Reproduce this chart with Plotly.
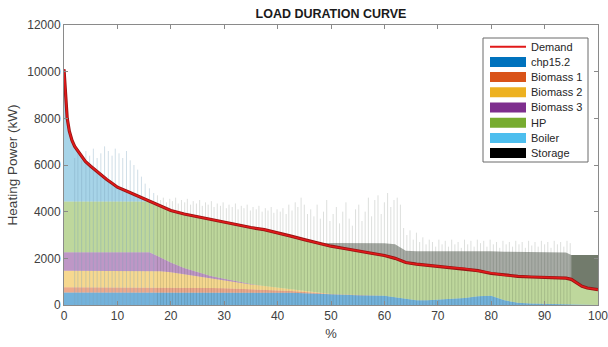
import plotly.graph_objects as go

# ---------------- data ----------------
X = [0, 0.3, 0.6, 1, 1.5, 2, 3, 4, 5, 6, 7, 8, 9, 10, 12, 14, 16, 18, 20,
     22.5, 25, 27.5, 30, 32.5, 35, 37.5, 40, 42.5, 45, 47.5, 50, 52.5, 55, 57.5, 60,
     62, 64, 66, 68, 70, 72.5, 75, 77.5, 80, 82.5, 85, 87.5, 90, 92.5,
     94, 95, 96, 97, 98, 99, 100]

DEMAND = [10100, 9200, 8000, 7450, 7050, 6800, 6450, 6150, 5950, 5750, 5550, 5380, 5220, 5050,
          4850, 4650, 4470, 4270, 4050,
          3900, 3780, 3650, 3530, 3420, 3320, 3230, 3100, 2950, 2800, 2650, 2520, 2420, 2320, 2220, 2120,
          2000, 1820, 1750, 1700, 1650,
          1600, 1560, 1470, 1350, 1280, 1230, 1200, 1190, 1170,
          1150, 1100, 950, 800, 730, 690, 660]

CHP = [540] * 26 + [530, 520, 500, 470, 450, 440, 420, 420, 400,
                    330, 250, 200, 200, 220,
                    250, 300, 380, 400, 200, 100, 60, 50, 40,
                    30, 0, 0, 0, 0, 0, 0]

BIO1 = [220] * 19 + [210, 200, 190, 180, 160, 140, 120, 100, 80, 60, 40, 25, 15, 10, 0, 0] + [0] * 21

BIO2 = [710] * 17 + [690, 640] + [560, 480, 400, 330, 260, 200, 150, 110, 70, 40, 20] + [0] * 26

BIO3 = [790] * 17 + [600, 420] + [280, 180, 110, 70, 40, 20] + [0] * 31

HP = [2180] * 17 + [2220, 2230,
                    2310, 2380, 2410, 2410, 2420, 2420, 2420, 2360, 2280, 2200, 2120, 2045, 1965, 1890, 1800, 1720,
                    1670, 1570, 1550, 1500, 1430,
                    1350, 1260, 1090, 950, 1080, 1130, 1140, 1140, 1130,
                    1120, 1100, 950, 800, 730, 690, 660]

BOILER = [5660, 4760, 3560, 3010, 2610, 2360, 2010, 1710, 1510, 1310, 1110, 940, 780, 610,
          410, 210, 30] + [0] * 39

STORAGE = [0] * 30 + [140, 240, 330, 430, 530,
                      600, 500, 550, 600, 650,
                      700, 750, 850, 950, 1000, 1050, 1080, 1090, 1100,
                      1100, 1040, 1190, 1340, 1410, 1450, 1480]

BLOCK_TOP = 2140  # storage block at the end of the curve (95-100 %)

# storage / boiler spikes (position %, top kW)
SPIKE_BOILER_X = [2.0, 2.6, 3.3, 4.1, 4.8, 5.5, 6.2, 6.9, 7.6, 8.3, 9.0, 9.6, 10.3, 11.0,
                  11.7, 12.4, 13.1, 13.8, 14.5, 15.2, 16.0, 16.8]
SPIKE_BOILER_Y = [6300, 6500, 6200, 6600, 6400, 6700, 6300, 6500, 6800, 6600, 6400, 6700, 6500, 6300,
                  6600, 6200, 6000, 5800, 5500, 5200, 5000, 4800]

SPIKE_X = [17.5, 18.1, 18.6, 19.2, 19.8, 20.3, 20.9, 21.4, 22.0, 22.6, 23.1, 23.7, 24.2, 24.8,
           25.4, 25.9, 26.5, 27.0, 27.6, 28.1, 28.7, 29.3, 29.8, 30.4, 30.9, 31.5, 32.1, 32.6,
           33.2, 33.7, 34.3, 34.9, 35.4, 36.0, 36.5, 37.1, 37.7, 38.2, 38.8, 39.3, 39.9, 40.5,
           41.0, 41.6, 42.1, 42.7, 43.3, 43.8, 44.4, 45.0,
           45.6, 46.2, 46.8, 47.4, 48.0, 48.6, 49.2, 49.8, 50.4, 51.0, 51.6, 52.2, 52.8, 53.4,
           54.0, 54.6, 55.2, 55.8, 56.4, 57.0, 57.6, 58.2, 58.8, 59.4, 60.0, 60.6, 61.2, 61.8,
           62.4, 63.0,
           63.6, 64.2, 64.8, 65.4, 66.0, 66.6, 67.2, 67.8, 68.4, 69.0, 69.6, 70.2, 70.8, 71.4,
           72.0, 72.6, 73.2, 73.8, 74.4, 75.0, 75.6, 76.2, 76.8, 77.4, 78.0, 78.6, 79.2, 79.8,
           80.4, 81.0, 81.6, 82.2, 82.8, 83.4, 84.0, 84.6, 85.2, 85.8, 86.4, 87.0, 87.6, 88.2,
           88.8, 89.4, 90.0, 90.6, 91.2, 91.8, 92.4, 93.0, 93.6, 94.2, 94.8]
SPIKE_Y = [4700, 4500, 4600, 4400, 4550, 4450, 4600, 4350, 4500, 4400, 4550, 4300, 4450, 4350,
           4500, 4250, 4400, 4300, 4450, 4200, 4350, 4250, 4400, 4150, 4300, 4200, 4350, 4100,
           4250, 4150, 4300, 4050, 4200, 4100, 4250, 4000, 4150, 4050, 4200, 3950, 4100, 4000,
           4150, 3900, 4300, 4050, 4400, 4200, 4600, 4300,
           3900, 4100, 3800, 4300, 3700, 4000, 4500, 3600, 3900, 4200, 3500, 4000, 4400, 3700,
           3400, 4100, 4300, 3600, 4000, 4600, 3800, 4500, 4700, 3900, 4400, 4800, 4200, 4500,
           4600, 4300,
           3300, 3000, 3200, 2800, 3100, 2700, 2900, 2600, 2800, 2700, 2500, 2800, 2600, 2750,
           2500, 2800, 2600, 2700, 2450, 2800, 2600, 2750, 2500, 2800, 2650, 2750, 2500, 2800,
           2600, 2700, 2450, 2750, 2600, 2700, 2500, 2750, 2600, 2700, 2450, 2750, 2550, 2700,
           2500, 2750, 2600, 2700, 2450, 2750, 2600, 2700, 2500, 2750, 2650]

X_TICKS = [0, 10, 20, 30, 40, 50, 60, 70, 80, 90, 100]
Y_TICKS = [0, 2000, 4000, 6000, 8000, 10000, 12000]

LEGEND_NAMES = ["Demand", "chp15.2", "Biomass 1", "Biomass 2", "Biomass 3", "HP", "Boiler", "Storage"]

# ---------------- styling ----------------
W, H = 608, 347
ML, MR, MT, MB = 64, 10, 25, 42
FONT = "Liberation Sans, Arial, Helvetica, sans-serif"

C_CHP = "rgba(0,114,189,0.55)"
C_B1 = "rgba(217,83,25,0.5)"
C_B2 = "rgba(237,177,32,0.5)"
C_B3 = "rgba(126,47,142,0.5)"
C_HP = "rgba(119,172,48,0.48)"
C_BOIL = "rgba(60,160,205,0.45)"
C_STOR = "rgba(45,55,40,0.42)"

fig = go.Figure()

for vals, col in [(CHP, C_CHP), (BIO1, C_B1), (BIO2, C_B2), (BIO3, C_B3),
                  (HP, C_HP), (BOILER, C_BOIL), (STORAGE, C_STOR)]:
    fig.add_trace(go.Scatter(x=X, y=vals, stackgroup="gen", mode="lines",
                             line=dict(width=0), fillcolor=col,
                             hoverinfo="skip", showlegend=False))

# storage block at the end (between demand and block top)
i95 = X.index(95)
bx = X[i95:]
bd = DEMAND[i95:]
fig.add_trace(go.Scatter(x=bx + bx[::-1], y=[BLOCK_TOP] * len(bx) + bd[::-1],
                         fill="toself", mode="lines", line=dict(width=0),
                         fillcolor="rgba(50,65,40,0.45)", hoverinfo="skip", showlegend=False))


def spikes(xs, ys):
    sx, sy = [], []
    for a, b in zip(xs, ys):
        sx += [a, a, None]
        sy += [0, b, None]
    return sx, sy


sx, sy = spikes(SPIKE_BOILER_X, SPIKE_BOILER_Y)
fig.add_trace(go.Scatter(x=sx, y=sy, mode="lines", line=dict(width=1, color="rgba(120,160,185,0.35)"),
                         hoverinfo="skip", showlegend=False))
sx, sy = spikes(SPIKE_X, SPIKE_Y)
fig.add_trace(go.Scatter(x=sx, y=sy, mode="lines", line=dict(width=0.8, color="rgba(40,48,38,0.2)"),
                         hoverinfo="skip", showlegend=False))

# demand line
fig.add_trace(go.Scatter(x=X, y=DEMAND, mode="lines", line=dict(width=3.2, color="rgb(150,20,20)"),
                         hoverinfo="skip", showlegend=False))
fig.add_trace(go.Scatter(x=X, y=DEMAND, mode="lines", line=dict(width=1.6, color="rgb(225,25,25)"),
                         hoverinfo="skip", showlegend=False))

axis_common = dict(showline=True, linecolor="#8a8a8a", linewidth=1, mirror="ticks",
                   ticks="inside", ticklen=4, tickcolor="#8a8a8a", showgrid=False, zeroline=False,
                   automargin=False, ticklabeloverflow="allow",
                   tickfont=dict(family=FONT, size=12, color="#404040"))

fig.update_layout(
    width=W, height=H, autosize=False,
    margin=dict(l=ML, r=MR, t=MT, b=MB),
    paper_bgcolor="white", plot_bgcolor="white",
    showlegend=False,
    title=dict(text="<b>LOAD DURATION CURVE</b>", x=(ML + (W - MR)) / 2 / W, xanchor="center",
               y=1 - 14 / H, yanchor="middle", yref="container",
               font=dict(family=FONT, size=12.5, color="#1a1a1a")),
    xaxis=dict(range=[0, 100], tickvals=X_TICKS, ticktext=[str(v) for v in X_TICKS], **axis_common,
               title=dict(text="%", font=dict(family=FONT, size=13, color="#404040"), standoff=6)),
    yaxis=dict(range=[0, 12000], tickvals=Y_TICKS, ticktext=[str(v) for v in Y_TICKS], **axis_common,
               title=dict(text="Heating Power (kW)", font=dict(family=FONT, size=13.5, color="#404040"),
                          standoff=6)),
)

# ---------------- manual MATLAB-style legend ----------------
PW = W - ML - MR
PH = H - MT - MB


def px2x(px):
    return (px - ML) / PW


def px2y(py):
    return (H - MB - py) / PH


shapes = [dict(type="rect", xref="paper", yref="paper",
               x0=px2x(483), x1=px2x(588), y0=px2y(162), y1=px2y(38),
               line=dict(color="#6a6a6a", width=1), fillcolor="white", layer="above")]
annots = []
swatch_cols = ["#0072BD", "#D95319", "#EDB120", "#7E2F8E", "#77AC30", "#4DBEEE", "#000000"]
for i, name in enumerate(LEGEND_NAMES):
    cy = 46.7 + 15.2 * i
    if i == 0:
        shapes.append(dict(type="line", xref="paper", yref="paper",
                           x0=px2x(490), x1=px2x(526), y0=px2y(cy), y1=px2y(cy),
                           line=dict(color="rgb(225,25,25)", width=2), layer="above"))
    else:
        shapes.append(dict(type="rect", xref="paper", yref="paper",
                           x0=px2x(490), x1=px2x(526), y0=px2y(cy + 5), y1=px2y(cy - 5),
                           line=dict(width=0), fillcolor=swatch_cols[i - 1], layer="above"))
    annots.append(dict(xref="paper", yref="paper", x=px2x(529), y=px2y(cy),
                       xanchor="left", yanchor="middle", showarrow=False, text=name,
                       font=dict(family=FONT, size=11, color="#262626")))

fig.update_layout(shapes=shapes, annotations=annots)

fig.write_html("out.html")
